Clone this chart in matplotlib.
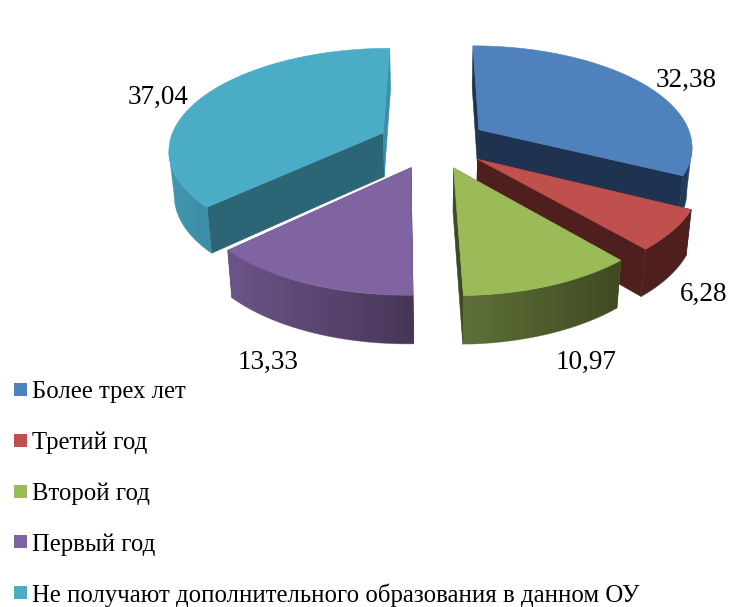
import numpy as np
import matplotlib
matplotlib.use("Agg")
import matplotlib.pyplot as plt
from matplotlib.patches import Polygon, Rectangle
from matplotlib.colors import to_rgb

CATEGORIES = ["Более трех лет", "Третий год", "Второй год", "Первый год",
              "Не получают дополнительного образования в данном ОУ"]
VALUES = [32.38, 6.28, 10.97, 13.33, 37.04]
LABELS = ["32,38", "6,28", "10,97", "13,33", "37,04"]

TOP_COLORS = ["#4f81bd", "#c0504d", "#9bbb59", "#8064a2", "#4bacc6"]
# cut face colours: (face at slice start, face at slice end)
CUT_COLORS = [("#1f3350", "#1f3350"), ("#4f1f1e", "#4f1f1e"), ("#55662f", "#3f4a22"),
              ("#483658", "#6c5488"), ("#2b6576", "#3a8fa8")]
# outer wall colour at the left and right end of each slice on screen
WALL_COLORS = [("#1f3350", "#294870"), ("#4f1f1e", "#4f1f1e"), ("#5e7038", "#3f4a22"),
               ("#6c5488", "#483658"), ("#4398b0", "#3c8ca5")]
LABEL_POS = [(686, 80), (704, 294), (586, 362), (268, 362), (158, 97)]
DRAW_ORDER = [0, 4, 1, 3, 2]

CX, CY = 433, 143
RADIUS = 214
EXPLODE = 55
TILT = 0.468
PERSP = 0.15
DEPTH = 44


def project(X, Y, low=False):
    w = 1 + PERSP * Y / RADIUS
    if low:
        return CX + 0.98 * X / w, CY - TILT * Y / w + DEPTH / np.sqrt(w)
    return CX + X / w, CY - TILT * Y / w


def drawWall(ax, idx, tx, ty, bx, by, z):
    pts = list(zip(tx, ty)) + list(zip(bx[::-1], by[::-1]))
    clip = Polygon(pts, closed=True, transform=ax.transData)
    c0 = np.array(to_rgb(WALL_COLORS[idx][0]))
    c1 = np.array(to_rgb(WALL_COLORS[idx][1]))
    grad = np.linspace(0, 1, 256)[None, :, None] * (c1 - c0) + c0
    xs = np.concatenate([tx, bx])
    ys = np.concatenate([ty, by])
    im = ax.imshow(grad, extent=[xs.min(), xs.max(), ys.max(), ys.min()],
                   aspect="auto", zorder=z)
    im.set_clip_path(clip)
    # thin outline to soften the clipped edge
    ax.add_patch(Polygon(pts, closed=True, fc="none", ec=np.append((c0 + c1) / 2, 0.5),
                         lw=0.5, zorder=z))


def drawSlice(ax, idx, start, end, z):
    mid = (start + end) / 2
    offset = (EXPLODE * np.sin(mid), EXPLODE * np.cos(mid))
    t = np.linspace(start, end, 120)
    X = RADIUS * np.sin(t) + offset[0]
    Y = RADIUS * np.cos(t) + offset[1]

    # cut faces
    for n, k in enumerate((0, -1)):
        px, py = project(np.array([offset[0], X[k]]), np.array([offset[1], Y[k]]))
        qx, qy = project(np.array([offset[0], X[k]]), np.array([offset[1], Y[k]]), low=True)
        pts = [(px[0], py[0]), (px[1], py[1]), (qx[1], qy[1]), (qx[0], qy[0])]
        col = CUT_COLORS[idx][n]
        ax.add_patch(Polygon(pts, closed=True, fc=col, ec=col, lw=0.4, zorder=z))

    # outer wall, cut at the screen extreme of the rim so the outline stays tangent
    tx, ty = project(X, Y)
    ext = np.argmax(np.abs(tx - CX))
    if np.sin(mid) > 0:
        tx_w, ty_w, X_w, Y_w = tx[ext:], ty[ext:], X[ext:], Y[ext:]
    else:
        tx_w, ty_w, X_w, Y_w = tx[:ext + 1], ty[:ext + 1], X[:ext + 1], Y[:ext + 1]
    bx, by = project(X_w, Y_w, low=True)
    drawWall(ax, idx, tx_w, ty_w, bx, by, z + 1)

    # top
    ox, oy = project(offset[0], offset[1])
    top = [(ox, oy)] + list(zip(tx, ty))
    ax.add_patch(Polygon(top, closed=True, fc=TOP_COLORS[idx], ec=TOP_COLORS[idx], lw=0.4, zorder=z + 2))


def main():
    plt.rcParams["font.family"] = ["Liberation Serif", "DejaVu Serif"]
    fig = plt.figure(figsize=(7.33, 6.07), dpi=100)
    ax = fig.add_axes([0, 0, 1, 1])

    edges = np.concatenate([[0], np.cumsum(VALUES)]) / np.sum(VALUES) * 2 * np.pi
    for n, idx in enumerate(DRAW_ORDER):
        drawSlice(ax, idx, edges[idx], edges[idx + 1], 2 + 3 * n)

    for text, (x, y) in zip(LABELS, LABEL_POS):
        ax.text(x, y, text, fontsize=19.5, color="black", ha="center", va="center", zorder=30)

    for i, name in enumerate(CATEGORIES):
        ax.add_patch(Rectangle((14, 383 + 50.8 * i), 13, 13, fc=TOP_COLORS[i], ec="none", zorder=30))
        ax.text(32, 398 + 51 * i, name, fontsize=17.8, color="black", ha="left", va="baseline", zorder=30)

    ax.set_xlim(0, 733)
    ax.set_ylim(607, 0)
    ax.axis("off")
    fig.savefig("out.png", dpi=100)
    plt.close(fig)


if __name__ == "__main__":
    main()
